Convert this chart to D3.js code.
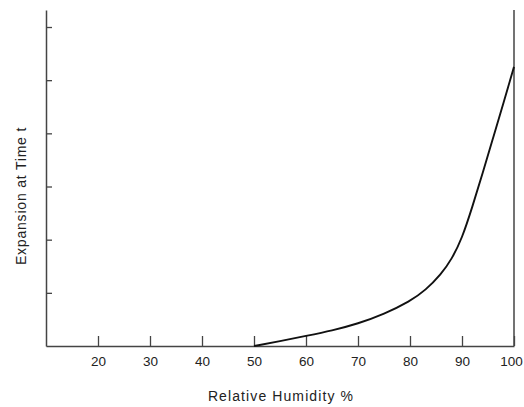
<!DOCTYPE html>
<html><head><meta charset="utf-8">
<script src="https://cdn.jsdelivr.net/npm/d3@7"></script>
<style>body{margin:0;background:#fff;}svg{display:block;}</style>
</head><body>
<svg id="c" width="524" height="407"></svg>
<script>
const humidity = [50, 55, 60, 65, 70, 75, 80, 83, 86, 88, 90, 92, 94, 96, 98, 100];
const expansion = [0, 0.09, 0.19, 0.29, 0.42, 0.6, 0.84, 1.05, 1.35, 1.63, 2.02, 2.62, 3.26, 3.92, 4.58, 5.25];
const xTicks = [20, 30, 40, 50, 60, 70, 80, 90, 100];
const yTicks = [1, 2, 3, 4, 5, 6];
const xTitle = "Relative Humidity %";
const yTitle = "Expansion at Time t";

(function () {
const svg = d3.select("#c");
const mLeft = 46, mRight = 514, mTop = 10, mBottom = 346;
const x = d3.scaleLinear().domain([10, 100]).range([mLeft, mRight]);
const y = d3.scaleLinear().domain([0, 6.32]).range([mBottom, mTop]);
const font = "Liberation Sans, Arial, Helvetica, sans-serif";
const axisCol = "#444";

// x axis
const gx = svg.append("g").attr("transform", `translate(0,${mBottom})`)
  .call(d3.axisBottom(x).tickValues(xTicks).tickSize(-10).tickPadding(10).tickSizeOuter(0));
gx.select(".domain").attr("stroke", axisCol).attr("stroke-width", 1.5);
gx.selectAll(".tick line").attr("stroke", axisCol).attr("stroke-width", 1.3);
gx.selectAll(".tick text").attr("font-family", font).attr("font-size", 13.5).attr("fill", "#222")
  .attr("dx", d => d === 100 ? -3 : 0);

// y axis
const gy = svg.append("g").attr("transform", `translate(${mLeft},0)`)
  .call(d3.axisLeft(y).tickValues(yTicks).tickSize(-6).tickFormat("").tickSizeOuter(0));
gy.select(".domain").attr("stroke", axisCol).attr("stroke-width", 1.5);
gy.selectAll(".tick line").attr("stroke", axisCol).attr("stroke-width", 1.3);

// right border
svg.append("line").attr("x1", x(100)).attr("x2", x(100)).attr("y1", y(6.32)).attr("y2", mBottom)
  .attr("stroke", axisCol).attr("stroke-width", 1.5);

// curve
const data = humidity.map((h, i) => [h, expansion[i]]);
svg.append("path").datum(data)
  .attr("d", d3.line().x(d => x(d[0])).y(d => y(d[1])).curve(d3.curveBasis))
  .attr("fill", "none").attr("stroke", "#111").attr("stroke-width", 1.9);

// titles
svg.append("text").attr("x", 281).attr("y", 401).attr("text-anchor", "middle")
  .attr("font-family", font).attr("font-size", 14).attr("letter-spacing", 1.1)
  .attr("fill", "#222").text(xTitle);
svg.append("text").attr("transform", "translate(26,196) rotate(-90)").attr("text-anchor", "middle")
  .attr("font-family", font).attr("font-size", 14).attr("letter-spacing", 0.8)
  .attr("fill", "#222").text(yTitle);
})();
</script>
</body></html>
